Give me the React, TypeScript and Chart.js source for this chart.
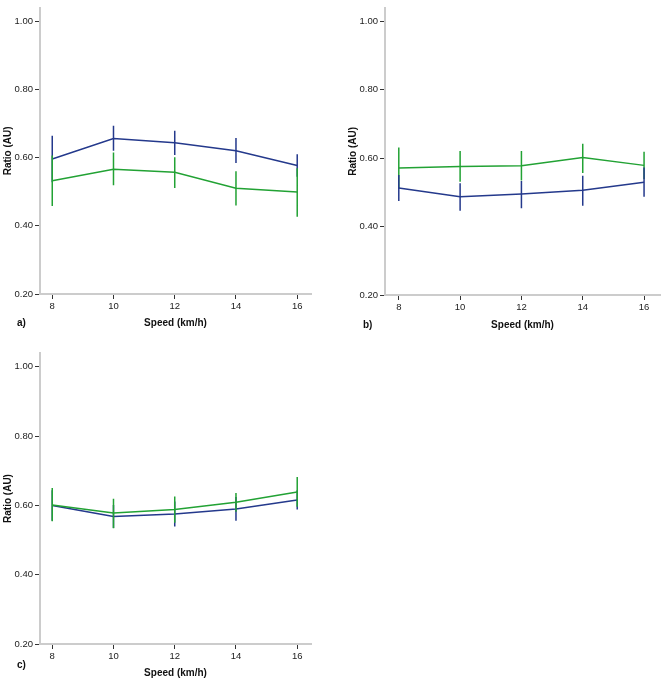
import React, { useEffect, useRef } from "react";
import { Chart, registerables } from "chart.js";

Chart.register(...registerables);

// ---- data ----
const speeds = [8, 10, 12, 14, 16];
const xTickValues = [8, 10, 12, 14, 16];
const yTickValues = [0.2, 0.4, 0.6, 0.8, 1.0];

// panel a
const aBlue = [0.596, 0.656, 0.644, 0.62, 0.577];
const aBlueLo = [0.528, 0.62, 0.608, 0.584, 0.544];
const aBlueHi = [0.664, 0.694, 0.679, 0.658, 0.61];
const aGreen = [0.532, 0.566, 0.557, 0.51, 0.499];
const aGreenLo = [0.458, 0.519, 0.511, 0.46, 0.427];
const aGreenHi = [0.606, 0.615, 0.601, 0.56, 0.569];

// panel b
const bBlue = [0.513, 0.487, 0.495, 0.506, 0.53];
const bBlueLo = [0.475, 0.446, 0.454, 0.461, 0.487];
const bBlueHi = [0.551, 0.527, 0.533, 0.549, 0.573];
const bGreen = [0.571, 0.576, 0.578, 0.602, 0.579];
const bGreenLo = [0.511, 0.531, 0.535, 0.557, 0.539];
const bGreenHi = [0.631, 0.621, 0.621, 0.642, 0.619];

// panel c
const cBlue = [0.6, 0.568, 0.575, 0.59, 0.616];
const cBlueLo = [0.556, 0.535, 0.539, 0.556, 0.588];
const cBlueHi = [0.644, 0.601, 0.611, 0.624, 0.644];
const cGreen = [0.601, 0.578, 0.588, 0.609, 0.639];
const cGreenLo = [0.554, 0.534, 0.55, 0.582, 0.596];
const cGreenHi = [0.65, 0.619, 0.626, 0.636, 0.682];

const yTitle = "Ratio (AU)";
const xTitle = "Speed (km/h)";

const BLUE = "#24398c";
const GREEN = "#22a234";
const FONT = "'Liberation Sans', Arial, sans-serif";

const errorBarPlugin = {
  id: "errorBars",
  afterDatasetDraw(chart: any, args: any) {
    const ds: any = chart.data.datasets[args.index];
    if (!ds.errLo || !ds.errHi) return;
    const { ctx, scales } = chart;
    const x = scales.x;
    const y = scales.y;
    ctx.save();
    ctx.strokeStyle = ds.borderColor;
    ctx.lineWidth = 1.5;
    ctx.beginPath();
    ds.data.forEach((pt: any, i: number) => {
      const px = x.getPixelForValue(pt.x);
      ctx.moveTo(px, y.getPixelForValue(ds.errLo[i]));
      ctx.lineTo(px, y.getPixelForValue(ds.errHi[i]));
    });
    ctx.stroke();
    ctx.restore();
  },
};

type Series = { color: string; mean: number[]; lo: number[]; hi: number[] };

type PanelProps = {
  left: number;
  top: number;
  width: number;
  height: number;
  padTop: number;
  padRight: number;
  xAxisH: number;
  titlePad: number;
  xMin: number;
  xMax: number;
  series: Series[]; // first = on top
  label: string;
  labelX: number;
  labelY: number;
};

function Panel(p: PanelProps) {
  const ref = useRef<HTMLCanvasElement>(null);
  useEffect(() => {
    if (!ref.current) return;
    const chart = new Chart(ref.current, {
      type: "line",
      data: {
        datasets: p.series.map((s) => ({
          data: speeds.map((sp, i) => ({ x: sp, y: s.mean[i] })),
          borderColor: s.color,
          backgroundColor: s.color,
          borderWidth: 1.5,
          pointRadius: 0,
          tension: 0,
          fill: false,
          errLo: s.lo,
          errHi: s.hi,
        })) as any,
      },
      options: {
        animation: false,
        responsive: false,
        devicePixelRatio: 1,
        layout: { padding: { top: p.padTop, right: p.padRight, left: 0, bottom: 0 } },
        plugins: { legend: { display: false }, tooltip: { enabled: false } },
        scales: {
          x: {
            type: "linear",
            min: p.xMin,
            max: p.xMax,
            afterBuildTicks: (s: any) => {
              s.ticks = xTickValues.map((v) => ({ value: v }));
            },
            afterFit: (s: any) => {
              s.height = p.xAxisH;
            },
            grid: {
              drawOnChartArea: false,
              drawTicks: true,
              tickLength: 5,
              color: "#333",
              tickColor: "#333",
              tickWidth: 1,
            },
            border: { display: true, color: "#cccccc", width: 2 },
            ticks: {
              padding: 2,
              color: "#222",
              font: { family: FONT, size: 9.5 },
              callback: (v: any) => String(v),
              maxRotation: 0,
            },
            title: {
              display: true,
              text: xTitle,
              color: "#111",
              font: { family: FONT, size: 10, weight: "bold" },
              padding: { top: 0, bottom: p.titlePad },
            },
          },
          y: {
            type: "linear",
            min: 0.2,
            max: 1.04,
            afterBuildTicks: (s: any) => {
              s.ticks = yTickValues.map((v) => ({ value: v }));
            },
            afterFit: (s: any) => {
              s.width = 40;
            },
            grid: {
              drawOnChartArea: false,
              drawTicks: true,
              tickLength: 5,
              color: "#333",
              tickColor: "#333",
              tickWidth: 1,
            },
            border: { display: true, color: "#cccccc", width: 2 },
            ticks: {
              padding: 2,
              color: "#222",
              font: { family: FONT, size: 9.5 },
              callback: (v: any) => Number(v).toFixed(2),
            },
            title: {
              display: true,
              text: yTitle,
              color: "#111",
              font: { family: FONT, size: 10, weight: "bold" },
              padding: { top: 2, bottom: 0 },
            },
          },
        },
      },
      plugins: [errorBarPlugin],
    });
    return () => chart.destroy();
  }, []);
  return (
    <>
      <canvas
        ref={ref}
        width={p.width}
        height={p.height}
        style={{ position: "absolute", left: p.left, top: p.top, width: p.width, height: p.height }}
      />
      <div
        style={{
          position: "absolute",
          left: p.labelX,
          top: p.labelY - 6,
          lineHeight: "12px",
          fontFamily: FONT,
          fontWeight: "bold",
          fontSize: 10,
          color: "#111",
        }}
      >
        {p.label}
      </div>
    </>
  );
}

export default function App() {
  return (
    <div style={{ position: "absolute", left: 0, top: 0, width: 661, height: 682, background: "#fff" }}>
      <Panel
        left={0}
        top={0}
        width={330}
        height={340}
        padTop={3}
        padRight={19}
        xAxisH={46}
        titlePad={11}
        xMin={7.6}
        xMax={16.45}
        series={[
          { color: GREEN, mean: aGreen, lo: aGreenLo, hi: aGreenHi },
          { color: BLUE, mean: aBlue, lo: aBlueLo, hi: aBlueHi },
        ]}
        label="a)"
        labelX={17}
        labelY={323}
      />
      <Panel
        left={345}
        top={0}
        width={316}
        height={340}
        padTop={5}
        padRight={1}
        xAxisH={45}
        titlePad={9}
        xMin={7.55}
        xMax={16.52}
        series={[
          { color: BLUE, mean: bBlue, lo: bBlueLo, hi: bBlueHi },
          { color: GREEN, mean: bGreen, lo: bGreenLo, hi: bGreenHi },
        ]}
        label="b)"
        labelX={363}
        labelY={325}
      />
      <Panel
        left={0}
        top={340}
        width={330}
        height={342}
        padTop={13}
        padRight={19}
        xAxisH={38}
        titlePad={3}
        xMin={7.6}
        xMax={16.45}
        series={[
          { color: GREEN, mean: cGreen, lo: cGreenLo, hi: cGreenHi },
          { color: BLUE, mean: cBlue, lo: cBlueLo, hi: cBlueHi },
        ]}
        label="c)"
        labelX={17}
        labelY={665}
      />
    </div>
  );
}
